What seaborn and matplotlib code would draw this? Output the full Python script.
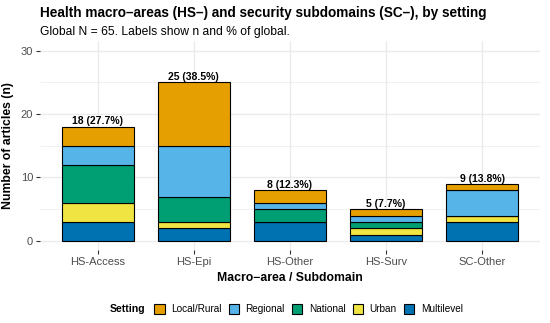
import numpy as np
import pandas as pd
import matplotlib
matplotlib.use("Agg")
import matplotlib.pyplot as plt
import seaborn as sns
from matplotlib.patches import Patch

# dane
areas = ["HS-Access", "HS-Epi", "HS-Other", "HS-Surv", "SC-Other"]
settings = ["Local/Rural", "Regional", "National", "Urban", "Multilevel"]
local_rural = [3, 10, 2, 1, 1]
regional = [3, 8, 1, 1, 4]
national = [6, 4, 2, 1, 0]
urban = [3, 1, 0, 1, 1]
multilevel = [3, 2, 3, 1, 3]
global_n = 65

colors = ["#E69F00", "#56B4E9", "#009E73", "#F0E442", "#0072B2"]
palette = dict(zip(settings, colors))

rows = []
for s, vals in zip(settings, [local_rural, regional, national, urban, multilevel]):
    for a, v in zip(areas, vals):
        if v > 0:
            rows.append({"area": a, "setting": s, "n": v})
df = pd.DataFrame(rows)
df["area"] = pd.Categorical(df["area"], categories=areas, ordered=True)
totals = df.groupby("area", observed=False)["n"].sum()

sns.set_theme(style="whitegrid")
plt.rcParams["font.family"] = ["Liberation Sans", "DejaVu Sans"]
plt.rcParams["text.color"] = "black"
plt.rcParams["axes.labelcolor"] = "black"

fig = plt.figure(figsize=(5.5, 3.23), dpi=100)
ax = fig.add_axes([0.0727, 0.2245, 0.909, 0.6486])

sns.histplot(data=df, x="area", weights="n", hue="setting", hue_order=settings,
             multiple="stack", discrete=True, shrink=0.75, palette=palette,
             alpha=1, edgecolor="black", linewidth=0.8, legend=False, ax=ax)

# etykiety n (%) nad słupkami
for i, a in enumerate(areas):
    t = totals[a]
    ax.text(i, t + 0.05, f"{t} ({100 * t / global_n:.1f}%)", ha="center", va="bottom",
            fontsize=7.5, fontweight="bold", color="black")

ax.set_xlim(-0.6, len(areas) - 0.4)
ax.set_ylim(-1.5, 31.5)
ax.set_yticks([0, 10, 20, 30])
ax.set_yticks([5, 15, 25], minor=True)
ax.set_xticks(range(len(areas)))
ax.set_xticklabels(areas)
ax.grid(True, which="major", color="#EBEBEB", linewidth=1.0)
ax.grid(True, which="minor", axis="y", color="#EBEBEB", linewidth=0.5)
ax.set_axisbelow(True)
for sp in ax.spines.values():
    sp.set_visible(False)
ax.tick_params(axis="both", which="major", length=3, width=0.8, color="#333333",
               labelsize=8, labelcolor="#4D4D4D", pad=2, bottom=True, left=True)
ax.tick_params(axis="y", which="minor", length=0)
ax.set_xlabel("Macro\u2212area / Subdomain", fontsize=8.8, fontweight="bold", labelpad=3)
ax.set_ylabel("Number of articles (n)", fontsize=8.8, fontweight="bold", labelpad=5)

fig.text(0.073, 0.96, "Health macro\u2013areas (HS\u2013) and security subdomains (SC\u2013), by setting",
         fontsize=9.8, fontweight="bold", va="center", ha="left")
fig.text(0.073, 0.902, "Global N = 65. Labels show n and % of global.",
         fontsize=8.7, va="center", ha="left")

handles = [Patch(facecolor=c, edgecolor="black", linewidth=0.8) for c in colors]
fig.text(0.2, 0.042, "Setting", fontsize=7.6, fontweight="bold", va="center", ha="left")
fig.legend(handles, settings, loc="center left", bbox_to_anchor=(0.28, 0.042), ncol=5,
           frameon=False, fontsize=7.2, handlelength=1.05, handleheight=1.05,
           handletextpad=0.65, columnspacing=0.7, borderaxespad=0, borderpad=0)

fig.savefig("out.png", dpi=100)
